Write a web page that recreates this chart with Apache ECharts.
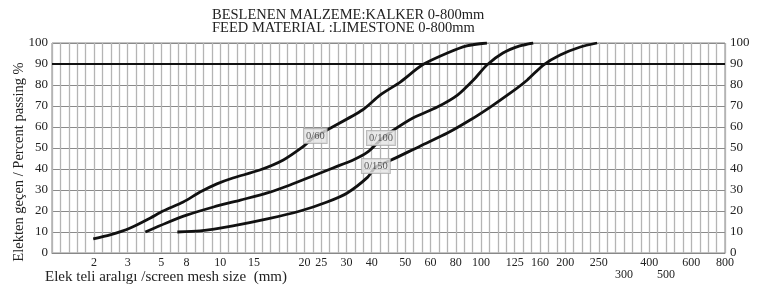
<!DOCTYPE html>
<html>
<head>
<meta charset="utf-8">
<script src="https://cdn.jsdelivr.net/npm/echarts@6/dist/echarts.min.js"></script>
<style>html,body{margin:0;padding:0;background:#fff}#c{width:760px;height:285px}</style>
</head>
<body>
<div id="c"></div>
<script>
// x is expressed in grid-column units of the chart (0..80), labelled with mesh sizes
const tickIdx  = [5, 9, 13, 16, 20, 24, 30, 32, 35, 38, 42, 45, 48, 51, 55, 58, 61, 65, 68, 71, 73, 76, 80];
const tickText = ['2','3','5','8','10','15','20','25','30','40','50','60','80','100','125','160','200','250','300','400','500','600','800'];
const lowTicks = ['300', '500'];
const yTicks = [0, 10, 20, 30, 40, 50, 60, 70, 80, 90, 100];
const refLine = 90;

const curve060 = [[4.9,6.7],[6.9,8.6],[9.3,11.9],[11.7,16.7],[13.2,20],[15.6,24.3],[17.6,29],[19.6,32.9],[21.5,35.7],[24.7,39.5],[27.5,44.3],[29.8,50.5],[31.3,55.5],[32.7,58.6],[36.9,68.1],[39,75.2],[41.4,81.4],[44,89.5],[47,95.2],[49.3,98.6],[51.7,100]];
const curve0100 = [[11.1,10],[13.6,14.3],[16,18],[19.2,21.9],[22.4,25.2],[25.6,28.6],[28.3,32.4],[30.7,36.2],[33.4,40.5],[35.8,44.3],[37.5,48],[39.1,54],[40.4,58],[42.9,64.3],[45.8,69.5],[48.2,75.2],[50.1,82.4],[51.7,89.5],[53.6,95.2],[55.6,98.6],[57.2,100]];
const curve0150 = [[14.9,10],[17.6,10.5],[21.5,12.9],[25.6,16.2],[29.5,20],[32.7,24.3],[35.1,28.6],[37.5,36],[38.5,41],[40.2,44],[43.8,51],[47,57.1],[49.7,63.3],[52.1,69.5],[54.5,76.2],[56.5,82.4],[58.4,89.5],[60.4,94.3],[62.8,98.1],[64.8,100]];
const curveNames = ['0/60', '0/100', '0/150'];
const curveLabelAt = [[31.3,55.7],[39.1,54.8],[38.5,41.4]];

const titleLine1 = 'BESLENEN MALZEME:KALKER 0-800mm';
const titleLine2 = 'FEED MATERIAL :LIMESTONE 0-800mm';
const yName = 'Elekten geçen / Percent passing %';
const xName = 'Elek teli aralıgı /screen mesh size  (mm)';

const FONT = '"Liberation Serif", "DejaVu Serif", serif';
const tickMap = {};
tickIdx.forEach((p, i) => { tickMap[p] = tickText[i]; });

const curves = [curve060, curve0100, curve0150];
const series = curves.map((d, i) => ({
  type: 'line', name: curveNames[i], data: d, smooth: 0.25, symbol: 'none',
  lineStyle: { color: '#111', width: 2.8 }, z: 3,
  markLine: i === 0 ? {
    silent: true, symbol: 'none', label: { show: false },
    lineStyle: { color: '#111', width: 2, type: 'solid' },
    data: [{ yAxis: refLine }]
  } : undefined
}));
series.push({
  type: 'scatter', symbolSize: 1, z: 10,
  itemStyle: { color: 'rgba(0,0,0,0)' },
  data: curveLabelAt.map((p, i) => ({ value: p, name: curveNames[i] })),
  label: {
    show: true, position: 'inside', formatter: p => p.name,
    fontFamily: FONT, fontSize: 10.5, color: '#333',
    backgroundColor: '#e4e4e4', borderColor: '#aaa', borderWidth: 1,
    padding: [2, 2, 1, 2]
  }
});

const chart = echarts.init(document.getElementById('c'), null, { renderer: 'canvas' });
chart.setOption({
  animation: false,
  backgroundColor: '#fff',
  title: [
    { text: titleLine1, left: 207, top: 3, textStyle: { fontFamily: FONT, fontSize: 14.5, fontWeight: 'normal', color: '#222' } },
    { text: titleLine2, left: 207, top: 16, textStyle: { fontFamily: FONT, fontSize: 14.5, fontWeight: 'normal', color: '#222' } },
    { text: xName, left: 40, top: 265, textStyle: { fontFamily: FONT, fontSize: 15, fontWeight: 'normal', color: '#222' } }
  ],
  graphic: [{
    type: 'text', x: 19, y: 162, rotation: Math.PI / 2,
    style: { text: yName, fontFamily: FONT, fontSize: 14.5, fill: '#222', align: 'center', verticalAlign: 'middle' }
  }],
  grid: { left: 52, right: 35, top: 43, bottom: 32, show: true, borderColor: '#888', borderWidth: 1 },
  xAxis: {
    type: 'value', min: 0, max: 80, interval: 1,
    axisLine: { show: true, lineStyle: { color: '#888' } },
    axisTick: { show: false },
    splitLine: { show: true, lineStyle: { color: '#b4b4b4', width: 1.3 } },
    axisLabel: {
      show: true, margin: 4, fontFamily: FONT, fontSize: 12, color: '#222',
      showMinLabel: true, showMaxLabel: true,
      formatter: v => {
        const t = tickMap[v];
        if (!t) return '';
        return lowTicks.includes(t) ? '\n' + t : t;
      }
    }
  },
  yAxis: [
    {
      type: 'value', min: 0, max: 100, interval: 10,
      axisLine: { show: false }, axisTick: { show: false },
      splitLine: { show: true, lineStyle: { color: '#8a8a8a', width: 1 } },
      axisLabel: { margin: 4, fontFamily: FONT, fontSize: 13, color: '#222', formatter: v => yTicks.includes(v) ? String(v) : '' }
    },
    {
      type: 'value', min: 0, max: 100, interval: 10, position: 'right',
      axisLine: { show: false }, axisTick: { show: false }, splitLine: { show: false },
      axisLabel: { margin: 5, fontFamily: FONT, fontSize: 13, color: '#222', formatter: v => yTicks.includes(v) ? String(v) : '' }
    }
  ],
  series: series
});
</script>
</body>
</html>
